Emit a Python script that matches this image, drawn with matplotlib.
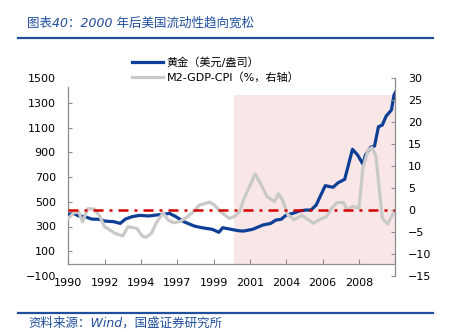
import numpy as np
import matplotlib
matplotlib.use("Agg")
import matplotlib.pyplot as plt
from matplotlib.lines import Line2D

plt.rcParams['font.family'] = ['DejaVu Sans', 'Noto Sans CJK SC']

# months counted from 1990-01
gold_month = [0, 4, 8, 13, 18, 24, 28, 35, 40, 44, 49, 55, 62, 68, 73, 78, 83, 89, 97,
              103, 111, 116, 119, 124, 131, 135, 142, 150, 156, 160, 164, 168, 173, 178,
              183, 187, 191, 198, 204, 208, 213, 219, 223, 227, 229, 233, 236, 239, 242,
              245, 249, 251, 252]
gold_price = [398, 406, 385, 379, 360, 358, 344, 339, 325, 360, 379, 390, 385, 393, 398,
              406, 379, 339, 304, 290, 277, 253, 290, 280, 266, 263, 277, 312, 325, 352,
              358, 393, 406, 425, 433, 433, 473, 630, 617, 654, 681, 924, 877, 805, 877,
              940, 950, 1106, 1120, 1193, 1241, 1362, 1384]

m2_month = [0, 4, 8, 11, 15, 20, 24, 28, 36, 42, 46, 53, 57, 60, 64, 68, 73, 77, 81, 86,
            91, 96, 101, 109, 113, 117, 124, 128, 132, 135, 139, 144, 148, 153, 159, 162,
            165, 169, 174, 180, 186, 189, 194, 199, 203, 207, 212, 215, 219, 224, 227,
            231, 234, 237, 240, 242, 246, 251]
m2_gap = [-1.9, -0.7, -0.4, -2.7, 0.3, 0.2, -1.3, -3.8, -5.3, -5.9, -3.8, -4.2, -5.9, -6.2,
          -5.3, -2.8, -0.7, -2.3, -2.9, -2.6, -1.7, -0.5, 1.1, 1.8, 1.0, -0.3, -1.9, -1.5,
          -0.4, 2.3, 4.9, 8.2, 6.1, 3.1, 1.9, 3.7, 2.3, -1.0, -2.2, -1.2, -2.4, -3.0, -2.1,
          -1.5, 0.4, 1.7, 1.7, 0.0, 0.8, 0.4, 9.5, 13.6, 14.2, 12.3, 3.8, -1.8, -3.2, -0.5]

shade_start = 128
shade_end = 252
shade_top = 1360

tick_months = list(range(0, 253, 28))
tick_labels = ['1990', '1992', '1994', '1997', '1999', '2001', '2004', '2006', '2008', '']

W, H = 451, 332
fig = plt.figure(figsize=(W / 100, H / 100), dpi=100)
ax = fig.add_axes([68.3 / W, 1 - 276 / H, 327 / W, 198 / H])
ax2 = ax.twinx()

blue = '#0d3f96'
grey = '#c9c9c9'
hdr = '#1f4e9c'

ax.fill_between([shade_start, shade_end], 0, shade_top, color='#f9e7e7', lw=0, zorder=0)
ax.plot(gold_month, gold_price, color=blue, lw=2.3, solid_joinstyle='round',
        label='黄金（美元/盎司）', zorder=3)
ax2.plot(m2_month, m2_gap, color=grey, lw=2.3, solid_joinstyle='round',
         label='M2-GDP-CPI（%，右轴）', zorder=2)
ax2.axhline(0, color='#d40000', lw=1.8, dashes=(4, 2.4, 1.2, 2.4), zorder=4)

ax.set_xlim(0, 252)
ax.set_ylim(-100, 1500)
ax2.set_ylim(-15, 30)

ax.set_yticks(range(-100, 1501, 200))
ax2.set_yticks(range(-15, 31, 5))
ax.set_xticks(tick_months)
ax.set_xticklabels(tick_labels)

for s in ['top', 'right']:
    ax.spines[s].set_visible(False)
ax.spines['bottom'].set_position(('data', 0))
ax.spines['left'].set_bounds(0, 1430)
for s in ['top', 'left', 'bottom']:
    ax2.spines[s].set_visible(False)
for a in (ax, ax2):
    for s in a.spines.values():
        s.set_color('#8c8c8c')
        s.set_linewidth(0.9)

ax.tick_params(axis='y', direction='in', length=3, width=0.8, color='#8c8c8c',
               labelsize=8, pad=9)
ax.tick_params(axis='x', direction='in', length=3.5, width=0.8, color='#8c8c8c',
               labelsize=8, pad=10)
ax2.tick_params(axis='y', direction='in', length=3, width=0.8, color='#8c8c8c',
                labelsize=8, pad=9)
yt = ax.yaxis.get_major_ticks()
yt[0].tick1line.set_visible(False)
yt[-1].tick1line.set_visible(False)

h1, l1 = ax.get_legend_handles_labels()
h2, l2 = ax2.get_legend_handles_labels()
fig.legend(h1 + h2, l1 + l2, loc='upper left', bbox_to_anchor=(131.5 / W, 1 - 57.5 / H),
           frameon=False, fontsize=8, handlelength=2.85, handletextpad=0.3,
           labelspacing=0.33, borderpad=0, borderaxespad=0)

fig.text(27 / W, 1 - 23 / H, '图表40：2000 年后美国流动性趋向宽松', color=hdr,
         fontsize=9, style='italic', va='center', ha='left')
fig.add_artist(Line2D([18 / W, 433 / W], [1 - 37.7 / H] * 2, color=hdr, lw=1.6))
fig.add_artist(Line2D([18 / W, 433 / W], [1 - 313.3 / H] * 2, color=hdr, lw=1.6))
fig.text(28 / W, 1 - 323.5 / H, '资料来源：Wind，国盛证券研究所', color=hdr,
         fontsize=9, style='italic', va='center', ha='left')

fig.savefig('out.png', dpi=100)
